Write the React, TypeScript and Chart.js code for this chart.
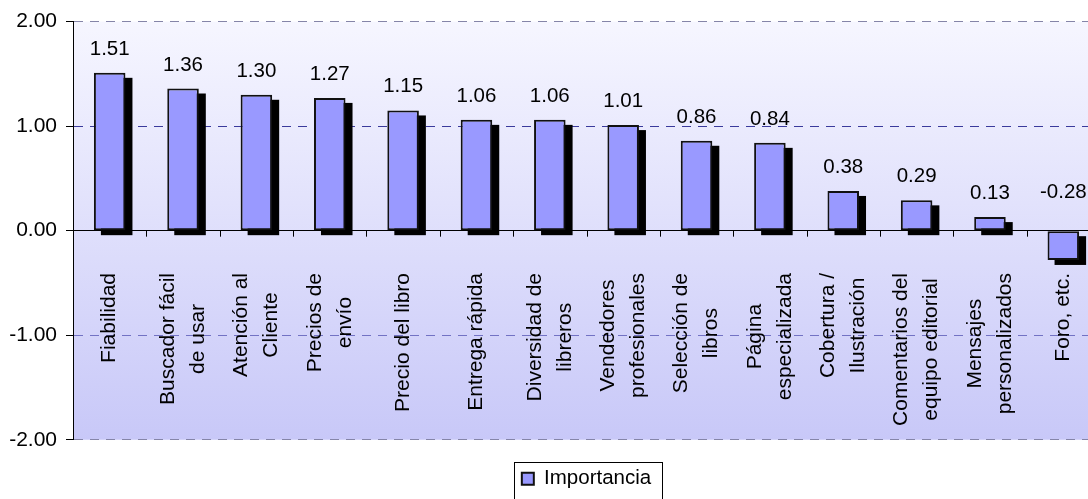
import React, { useEffect, useRef } from "react";
import { Chart, registerables } from "chart.js";

Chart.register(...registerables);

const categories: string[][] = [
  ["Fiabilidad"],
  ["Buscador fácil", "de usar"],
  ["Atención al", "Cliente"],
  ["Precios de", "envío"],
  ["Precio del libro"],
  ["Entrega rápida"],
  ["Diversidad de", "libreros"],
  ["Vendedores", "profesionales"],
  ["Selección de", "libros"],
  ["Página", "especializada"],
  ["Cobertura /", "Ilustración"],
  ["Comentarios del", "equipo editorial"],
  ["Mensajes", "personalizados"],
  ["Foro, etc."],
];

const importancia: number[] = [1.51, 1.36, 1.3, 1.27, 1.15, 1.06, 1.06, 1.01, 0.86, 0.84, 0.38, 0.29, 0.13, -0.28];

const seriesLabel = "Importancia";
const yMin = -2;
const yMax = 2;
const yStep = 1;

const FONT = "'Liberation Sans', Arial, Helvetica, sans-serif";
const FS = 20.5;
const FS_AXIS = 21;
const LEGEND_PAD = 28.75;

export default function App() {
  const ref = useRef<HTMLCanvasElement>(null);

  useEffect(() => {
    const canvas = ref.current;
    if (!canvas) return;

    const bgPlugin = {
      id: "bgGradient",
      beforeDraw(chart: any) {
        const { ctx, chartArea: a } = chart;
        const g = ctx.createLinearGradient(0, a.top, 0, a.bottom);
        g.addColorStop(0, "#f6f6ff");
        g.addColorStop(1, "#c8c8f8");
        ctx.save();
        ctx.fillStyle = g;
        ctx.fillRect(a.left, a.top, a.right - a.left, a.bottom - a.top);
        ctx.restore();
      },
    };

    const underPlugin = {
      id: "underBars",
      beforeDatasetsDraw(chart: any) {
        const { ctx } = chart;
        const xs = chart.scales.x;
        const ys = chart.scales.y;
        const zero = ys.getPixelForValue(0);
        const step = xs.getPixelForValue(1) - xs.getPixelForValue(0);
        ctx.save();
        // category labels
        ctx.font = `${FS_AXIS}px ${FONT}`;
        ctx.fillStyle = "#000";
        ctx.textAlign = "center";
        ctx.textBaseline = "middle";
        const top = 273;
        const lineH = 30;
        categories.forEach((lines, i) => {
          const cx = xs.getPixelForValue(i);
          const maxW = Math.max(...lines.map((l) => ctx.measureText(l).width));
          const cy = top + maxW / 2;
          ctx.save();
          ctx.translate(cx, cy);
          ctx.rotate(-Math.PI / 2);
          lines.forEach((l, k) => {
            ctx.fillText(l, 0, (k - (lines.length - 1) / 2) * lineH);
          });
          ctx.restore();
        });
        // tick marks on zero line
        ctx.strokeStyle = "#000";
        ctx.lineWidth = 1;
        ctx.beginPath();
        for (let i = 0; i < categories.length; i++) {
          const bx = Math.round(xs.getPixelForValue(i) + step / 2) + 0.5;
          ctx.moveTo(bx, zero);
          ctx.lineTo(bx, zero + 6);
        }
        ctx.stroke();
        // shadows
        const meta = chart.getDatasetMeta(0);
        ctx.fillStyle = "#000";
        meta.data.forEach((bar: any) => {
          const { x, y, base, width } = bar.getProps(["x", "y", "base", "width"], true);
          const t = Math.min(y, base);
          const b = Math.max(y, base);
          ctx.fillRect(x - width / 2 + 7, t + 5, width, b - t);
        });
        ctx.restore();
      },
    };

    const overPlugin = {
      id: "overBars",
      afterDatasetsDraw(chart: any) {
        const { ctx } = chart;
        const ys = chart.scales.y;
        const zero = ys.getPixelForValue(0);
        const meta = chart.getDatasetMeta(0);
        ctx.save();
        ctx.font = `${FS}px ${FONT}`;
        ctx.fillStyle = "#000";
        ctx.textAlign = "center";
        ctx.textBaseline = "alphabetic";
        meta.data.forEach((bar: any, i: number) => {
          const v = importancia[i];
          const { x, y } = bar.getProps(["x", "y"], true);
          const by = v >= 0 ? y - 18 : zero - 33;
          ctx.fillText(v.toFixed(2), x, by);
        });
        ctx.restore();
      },
      afterDraw(chart: any) {
        const lg = chart.legend;
        if (!lg || !lg.legendHitBoxes || !lg.legendHitBoxes.length) return;
        const hb = lg.legendHitBoxes[0];
        const { ctx } = chart;
        const cy = lg.top + LEGEND_PAD + FS / 2;
        const left = Math.round(hb.left - 8) + 0.5;
        const right = Math.round(hb.left + hb.width + 11) + 0.5;
        const top = Math.round(cy - 17) + 0.5;
        ctx.save();
        ctx.strokeStyle = "#000";
        ctx.lineWidth = 1;
        ctx.strokeRect(left, top, right - left, chart.height + 10 - top);
        ctx.restore();
      },
    };

    const chart = new Chart(canvas, {
      type: "bar",
      data: {
        labels: categories.map((c) => c.join(" ")),
        datasets: [
          {
            label: seriesLabel,
            data: importancia,
            backgroundColor: "#9999ff",
            borderColor: "#111111",
            borderWidth: 2,
            borderSkipped: false,
            barPercentage: 0.43,
            categoryPercentage: 1.0,
          },
        ],
      },
      options: {
        responsive: false,
        animation: false,
        devicePixelRatio: 1,
        layout: { padding: { top: 21, left: 0, right: 0, bottom: 0 } },
        plugins: {
          title: { display: false },
          tooltip: { enabled: false },
          legend: {
            display: true,
            position: "bottom",
            fullSize: false,
            labels: {
              boxWidth: 12,
              boxHeight: 12,
              padding: LEGEND_PAD,
              color: "#000",
              font: { family: FONT, size: FS },
            },
          },
        },
        scales: {
          x: {
            display: false,
            grid: { display: false },
          },
          y: {
            min: yMin,
            max: yMax,
            afterFit: (s: any) => {
              s.width = 73;
            },
            ticks: {
              stepSize: yStep,
              color: "#000",
              padding: 9,
              font: { family: FONT, size: FS_AXIS },
              callback: (v: any) => Number(v).toFixed(2),
            },
            grid: {
              color: (c: any) => {
                const v = c.tick ? c.tick.value : 0;
                if (v === 0) return "#000000";
                if (Math.abs(v) === 2) return "#8585a8";
                if (v < 0) return "#7272c4";
                return "#3a3a9c";
              },
              lineWidth: 1,
              drawTicks: true,
              tickLength: 7,
              tickColor: "#000",
              tickWidth: 1,
            },
            border: {
              display: true,
              color: "#000",
              width: 1,
              dash: (c: any) => {
                if (!c.tick) return [];
                return c.tick.value === 0 ? [] : [9, 7];
              },
            },
          },
        },
      },
      plugins: [bgPlugin, underPlugin, overPlugin],
    } as any);

    return () => chart.destroy();
  }, []);

  return (
    <div style={{ position: "absolute", left: 0, top: 0, width: 1088, height: 499, overflow: "hidden", background: "#fff" }}>
      <canvas ref={ref} width={1100} height={499} style={{ display: "block", width: 1100, height: 499 }} />
    </div>
  );
}
